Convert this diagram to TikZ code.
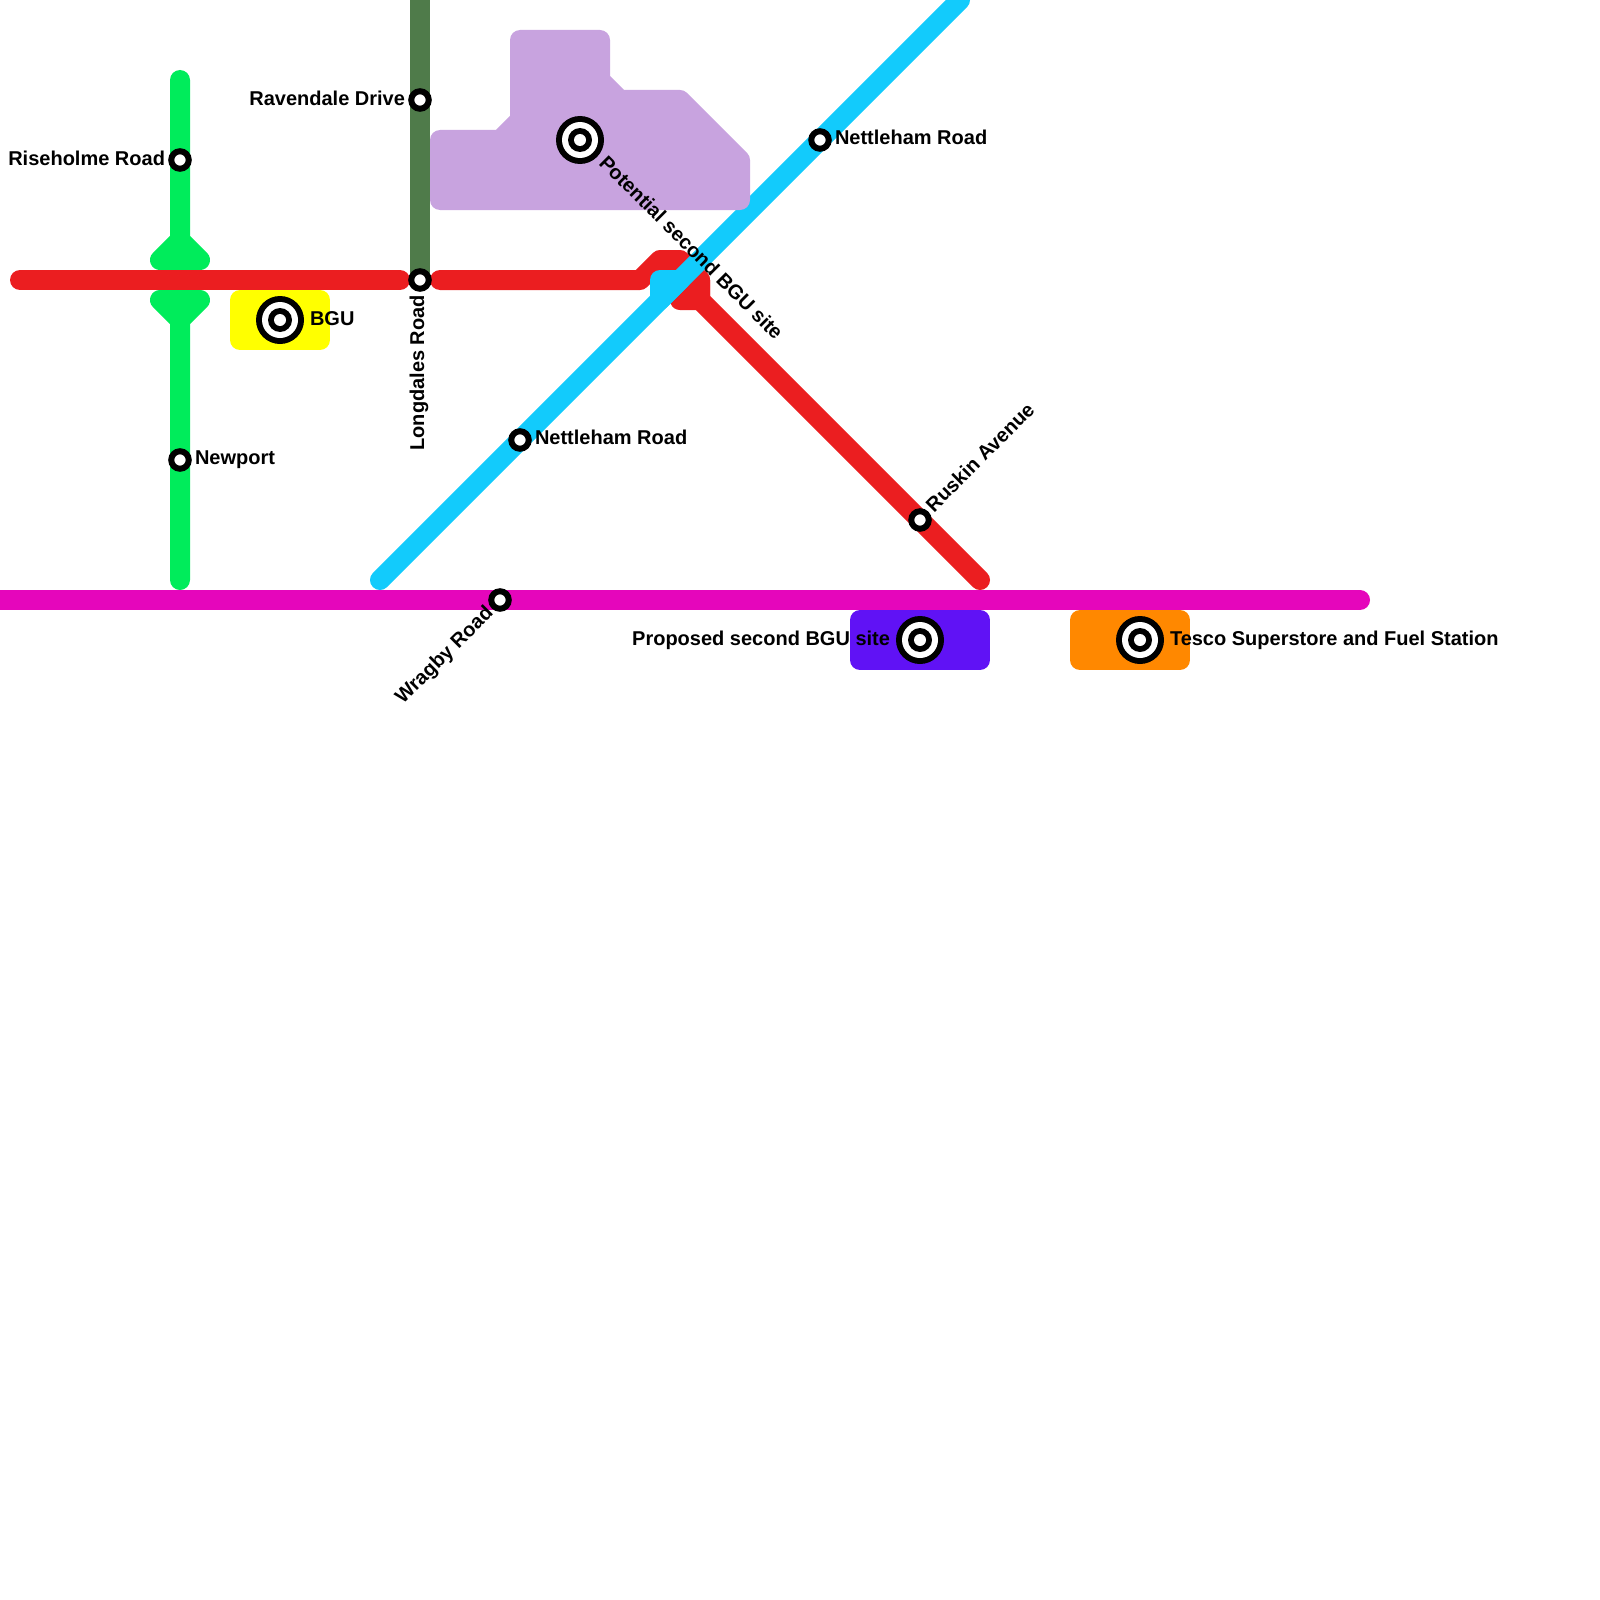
\documentclass[tikz,border=0pt]{standalone}
\usepackage{fontspec}
\setmainfont{Liberation Sans}[BoldFont={Liberation Sans Bold}]
\definecolor{cred}{HTML}{EB1E20}
\definecolor{cgreen}{HTML}{00EC5B}
\definecolor{cdark}{HTML}{4F7B4A}
\definecolor{cblue}{HTML}{12CBFC}
\definecolor{cmag}{HTML}{E506BB}
\definecolor{cpurp}{HTML}{C8A3DF}
\definecolor{cyel}{HTML}{FFFF00}
\definecolor{cviol}{HTML}{6012F5}
\definecolor{corg}{HTML}{FF8800}
\tikzset{
  x=1pt,y=-1pt,
  route/.style={line width=20pt,line cap=round,line join=round},
  blockarea/.style={line width=20pt,line join=round},
  stop/.style={circle,draw=black,fill=white,line width=6pt,minimum size=17.5pt,inner sep=0pt,outer sep=0pt},
  lab/.style={font=\fontsize{20pt}{24pt}\selectfont\bfseries,inner sep=0pt,outer sep=0pt,text=black},
  hub/.pic={
    \fill[black] (0,0) circle[radius=24pt];
    \fill[white] (0,0) circle[radius=18pt];
    \fill[black] (0,0) circle[radius=12pt];
    \fill[white] (0,0) circle[radius=6pt];
  }
}
\begin{document}
\begin{tikzpicture}
\useasboundingbox (0,0) rectangle (1600,1600);
% stations as named points
\coordinate (riseholme) at (180,160);
\coordinate (newport) at (180,460);
\coordinate (ravendale) at (420,100);
\coordinate (longdales) at (420,280);
\coordinate (nettA) at (820,140);
\coordinate (nettB) at (520,440);
\coordinate (ruskin) at (920,520);
\coordinate (wragby) at (500,600);
% routes
\coordinate (gTop) at (180,80);
\coordinate (gBot) at (180,580);
\draw[route,cgreen] (gTop) -- (180,240) -- (160,260) -- (200,260) -- (180,240);
\draw[route,cgreen] (gBot) -- (180,320) -- (160,300) -- (200,300) -- (180,320);
\coordinate (dTop) at (420,-5);
\draw[line width=20pt,cdark] (dTop) -- (longdales);
\coordinate (rA) at (20,280);
\coordinate (rB) at (400,280);
\coordinate (rC) at (440,280);
\coordinate (rEnd) at (980,580);
\draw[route,cred] (rA) -- (rB);
\draw[route,cred] (rC) -- (640,280) -- (660,260) -- (680,260) -- (700,280) -- (700,300) -- (rEnd);
\draw[route,cred,fill=cred] (680,300) -- (700,300) -- (700,280) -- cycle;
\coordinate (mA) at (-15,600);
\coordinate (mB) at (1360,600);
\draw[route,cmag] (mA) -- (mB);
\coordinate (bA) at (380,580);
\coordinate (bB) at (960,0);
\draw[route,cblue] (bA) -- (bB);
\draw[route,cblue,fill=cblue] (660,300) -- (660,280) -- (680,280) -- cycle;
% blocks
\draw[blockarea,cpurp,fill=cpurp] (440,140) -- (500,140) -- (520,120) -- (520,40) -- (600,40) -- (600,80) -- (620,100) -- (680,100) -- (740,160) -- (740,200) -- (440,200) -- cycle;
\draw[blockarea,cyel,fill=cyel] (240,300) rectangle (320,340);
\draw[blockarea,cviol,fill=cviol] (860,620) rectangle (980,660);
\draw[blockarea,corg,fill=corg] (1080,620) rectangle (1180,660);
% stops
\foreach \s in {riseholme,newport,ravendale,longdales,nettA,nettB,ruskin,wragby}
  \node[stop] (stop-\s) at (\s) {};
\pic at (580,140) {hub};
\pic at (280,320) {hub};
\pic at (920,640) {hub};
\pic at (1140,640) {hub};
% labels
\node[lab,anchor=base east] (l1) at (165,165) {Riseholme Road};
\node[lab,anchor=base west] (l2) at (195,464) {Newport};
\node[lab,anchor=base east] (l3) at (405,106) {Ravendale Drive};
\node[lab,anchor=base west] (l4) at (310,325) {BGU};
\node[lab,anchor=base west] (l5) at (835,145) {Nettleham Road};
\node[lab,anchor=base west] (l6) at (535,444) {Nettleham Road};
\node[lab,anchor=base east] (l7) at (890,645) {Proposed second BGU site};
\node[lab,anchor=base west] (l8) at (1170,645) {Tesco Superstore and Fuel Station};
\node[lab,anchor=base east,rotate=90] (l9) at (424,295) {Longdales Road};
\node[lab,anchor=base west,rotate=45] (l10) at (934,513) {Ruskin Avenue};
\node[lab,anchor=base east,rotate=45] (l11) at (494,614) {Wragby Road};
\node[lab,anchor=base west,rotate=-45] (l12) at (598,164) {Potential second BGU site};
\end{tikzpicture}
\end{document}
